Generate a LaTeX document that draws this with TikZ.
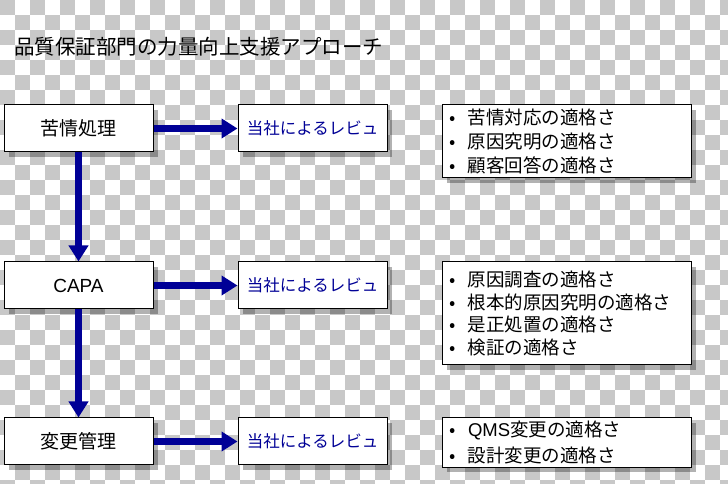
\documentclass[tikz,border=0pt]{standalone}
\usepackage{fontspec}
\setmainfont{Noto Sans CJK JP}
\newfontfamily\latfont{Liberation Sans}
\usetikzlibrary{arrows.meta,shadows}
\definecolor{flownavy}{RGB}{0,0,150}
\definecolor{checkgray}{RGB}{200,200,200}
\newcommand{\itm}[1]{\hspace*{8pt}\makebox[6pt]{•}\hspace*{12pt}#1}
\tikzset{
  boxshadow/.style={drop shadow={shadow xshift=5pt, shadow yshift=-5pt, opacity=0.3, fill=black}},
  procbox/.style={draw, line width=1pt, fill=white, boxshadow, minimum width=149pt, minimum height=47pt,
    font=\fontsize{19}{22}\selectfont},
  revbox/.style={procbox, text=flownavy, font=\fontsize{16.5}{20}\selectfont},
  listbox/.style={draw, line width=1pt, fill=white, boxshadow, text width=249pt, inner xsep=0pt,
    align=left, font=\fontsize{18.5}{#1}\selectfont},
  flow/.style={draw=flownavy, line width=7.5pt, -{Triangle[width=19pt,length=16pt]}}
}
\begin{document}
\begin{tikzpicture}[x=1pt, y=1pt]
    \useasboundingbox (0,0) rectangle (728,484);

    % 背景の市松模様
    \begin{scope}
        \clip (0,0) rectangle (728,484);
        \fill[white] (0,0) rectangle (728,484);
        \foreach \i in {0,...,48}
            \foreach \j in {0,...,32}{
                \pgfmathtruncatemacro{\chk}{mod(\i+\j,2)}
                \ifnum\chk=0 \fill[checkgray] (15*\i,484-15*\j) rectangle ++(15,-15); \fi
            }
    \end{scope}

    % タイトル
    \node[anchor=west, inner sep=0pt, font=\fontsize{20.5}{24}\selectfont] (title) at (14,437)
        {品質保証部門の力量向上支援アプローチ};

    % 左側のプロセス
    \node[procbox] (kujo)  at (78.5,355.5) {苦情処理};
    \node[procbox] (capa)  at (78.5,198.5) {\latfont CAPA};
    \node[procbox] (henko) at (78.5,42.5)  {変更管理};

    % 当社によるレビュ
    \node[revbox] (rev1) at (312.5,355.5) {当社によるレビュ};
    \node[revbox] (rev2) at (312.5,198.5) {当社によるレビュ};
    \node[revbox] (rev3) at (312.5,42.5)  {当社によるレビュ};

    % 適格さの一覧
    \node[listbox=24, minimum height=73pt] (list1) at (566.5,342.5)
        {\itm{苦情対応の適格さ}\\ \itm{原因究明の適格さ}\\ \itm{顧客回答の適格さ}};
    \node[listbox=22.5, minimum height=103pt] (list2) at (566.5,170.5)
        {\itm{原因調査の適格さ}\\ \itm{根本的原因究明の適格さ}\\ \itm{是正処置の適格さ}\\ \itm{検証の適格さ}};
    \node[listbox=25.5, minimum height=49pt] (list3) at (566.5,41.5)
        {\itm{{\latfont QMS}変更の適格さ}\\ \itm{設計変更の適格さ}};

    % 矢印
    \draw[flow] (kujo) -- (rev1);
    \draw[flow] (capa) -- (rev2);
    \draw[flow] (henko) -- (rev3);
    \draw[flow] (kujo) -- (capa);
    \draw[flow] (capa) -- (henko);
\end{tikzpicture}
\end{document}
